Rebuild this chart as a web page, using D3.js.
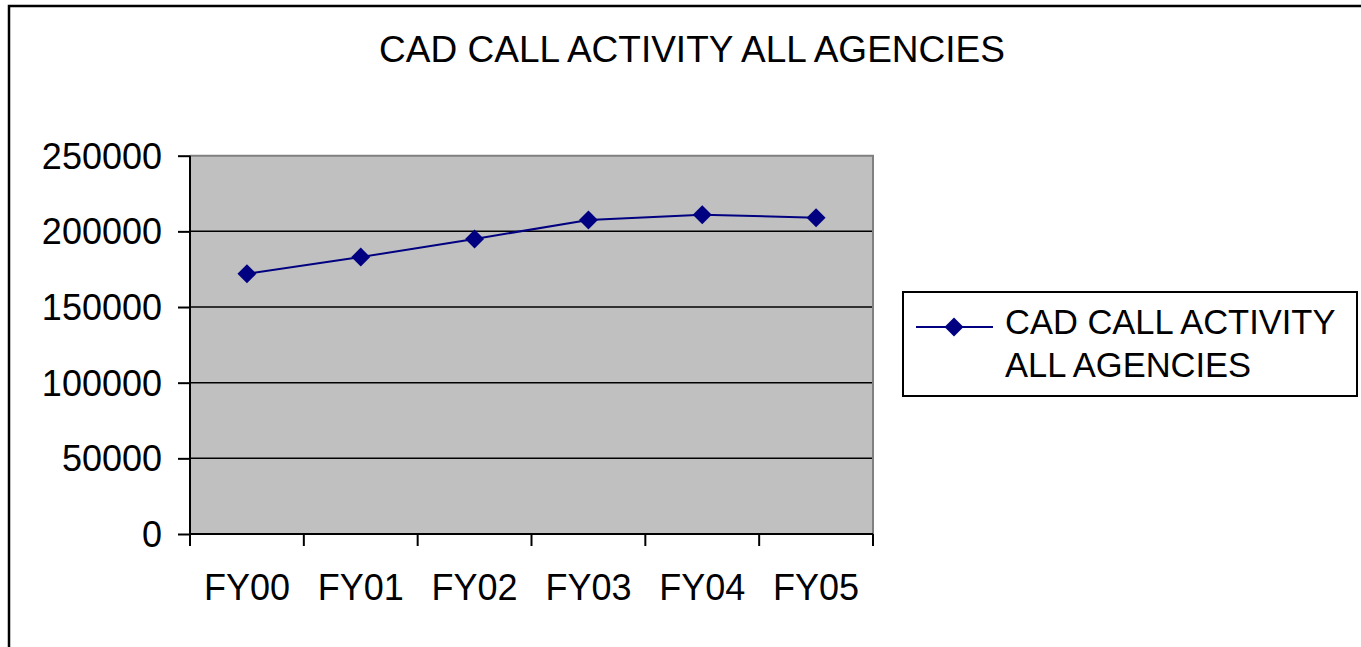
<!DOCTYPE html>
<html><head><meta charset="utf-8">
<script src="https://cdn.jsdelivr.net/npm/d3@7"></script>
<style>body{margin:0;background:#fff;} svg{display:block;font-family:"Liberation Sans",Arial,sans-serif;}</style>
</head><body>
<svg id="c" width="1361" height="647"></svg>
<script>
const categories = ["FY00","FY01","FY02","FY03","FY04","FY05"];
const values = [172000,183000,195000,207500,211000,209000];
const yTicks = [0,50000,100000,150000,200000,250000];
const seriesName = ["CAD CALL ACTIVITY","ALL AGENCIES"];
const title = "CAD CALL ACTIVITY ALL AGENCIES";

const svg = d3.select("#c");
const L = 190, R = 873, T = 155.7, B = 534;
const x = d3.scaleBand().domain(categories).range([L,R]).padding(0);
const y = d3.scaleLinear().domain([0,250000]).range([B,T]);

// outer frame
svg.append("rect").attr("x",9).attr("y",6).attr("width",1400).attr("height",700)
  .attr("fill","none").attr("stroke","#000").attr("stroke-width",2.5);

// title
svg.append("text").attr("x",692).attr("y",62).attr("text-anchor","middle")
  .attr("font-size",37).attr("fill","#000").text(title);

// plot area
svg.append("rect").attr("x",L).attr("y",T).attr("width",R-L).attr("height",B-T)
  .attr("fill","#C0C0C0");
// gridlines
svg.append("g").selectAll("line").data(yTicks.filter(d=>d>0 && d<250000)).join("line")
  .attr("x1",L).attr("x2",R).attr("y1",d=>y(d)).attr("y2",d=>y(d))
  .attr("stroke","#000").attr("stroke-width",1.5);
// top/right border gray
svg.append("path").attr("d",`M${L},${T}H${R}V${B}`).attr("fill","none")
  .attr("stroke","#808080").attr("stroke-width",2);

// y axis
const ya = svg.append("g").attr("transform",`translate(${L},0)`)
  .call(d3.axisLeft(y).tickValues(yTicks).tickSize(12).tickPadding(16).tickFormat(d3.format("d")));
ya.select(".domain").attr("stroke","#000").attr("stroke-width",2).attr("d",`M0,${T}V${B+12}`);
ya.selectAll(".tick line").attr("stroke","#000").attr("stroke-width",2);
ya.selectAll(".tick text").attr("font-size",36).attr("fill","#000")
  .attr("font-family","'Liberation Sans',Arial,sans-serif").attr("dy","0.35em");

// x axis
const xa = svg.append("g").attr("transform",`translate(0,${B})`)
  .call(d3.axisBottom(x).tickSize(0).tickPadding(40));
xa.select(".domain").attr("stroke","#000").attr("stroke-width",2).attr("d",`M${L},0H${R}`);
xa.selectAll(".tick text").attr("font-size",36).attr("fill","#000")
  .attr("font-family","'Liberation Sans',Arial,sans-serif").attr("dy","0.71em");
const edges = categories.map(c=>x(c)).concat([x(categories[categories.length-1])+x.bandwidth()]);
xa.append("g").selectAll("line").data(edges).join("line")
  .attr("x1",d=>d).attr("x2",d=>d).attr("y1",0).attr("y2",12)
  .attr("stroke","#000").attr("stroke-width",2);

// line
const cx = c => x(c) + x.bandwidth()/2;
svg.append("path").datum(values)
  .attr("d", d3.line().x((d,i)=>cx(categories[i])).y(d=>y(d)))
  .attr("fill","none").attr("stroke","#000080").attr("stroke-width",2);
const sym = d3.symbol().type(d3.symbolSquare).size(180);
svg.append("g").selectAll("path").data(values).join("path")
  .attr("d",sym)
  .attr("transform",(d,i)=>`translate(${cx(categories[i])},${y(d)}) rotate(45)`)
  .attr("fill","#000080");

// legend
svg.append("rect").attr("x",903).attr("y",292).attr("width",454).attr("height",104)
  .attr("fill","#fff").attr("stroke","#000").attr("stroke-width",2);
svg.append("line").attr("x1",916).attr("x2",993).attr("y1",327).attr("y2",327)
  .attr("stroke","#000080").attr("stroke-width",2);
svg.append("path").attr("d",sym).attr("transform","translate(954,327) rotate(45)").attr("fill","#000080");
svg.append("g").selectAll("text").data(seriesName).join("text")
  .attr("x",1005).attr("y",(d,i)=>334+i*43).attr("font-size",34.5).attr("fill","#000").text(d=>d);
</script>
</body></html>
